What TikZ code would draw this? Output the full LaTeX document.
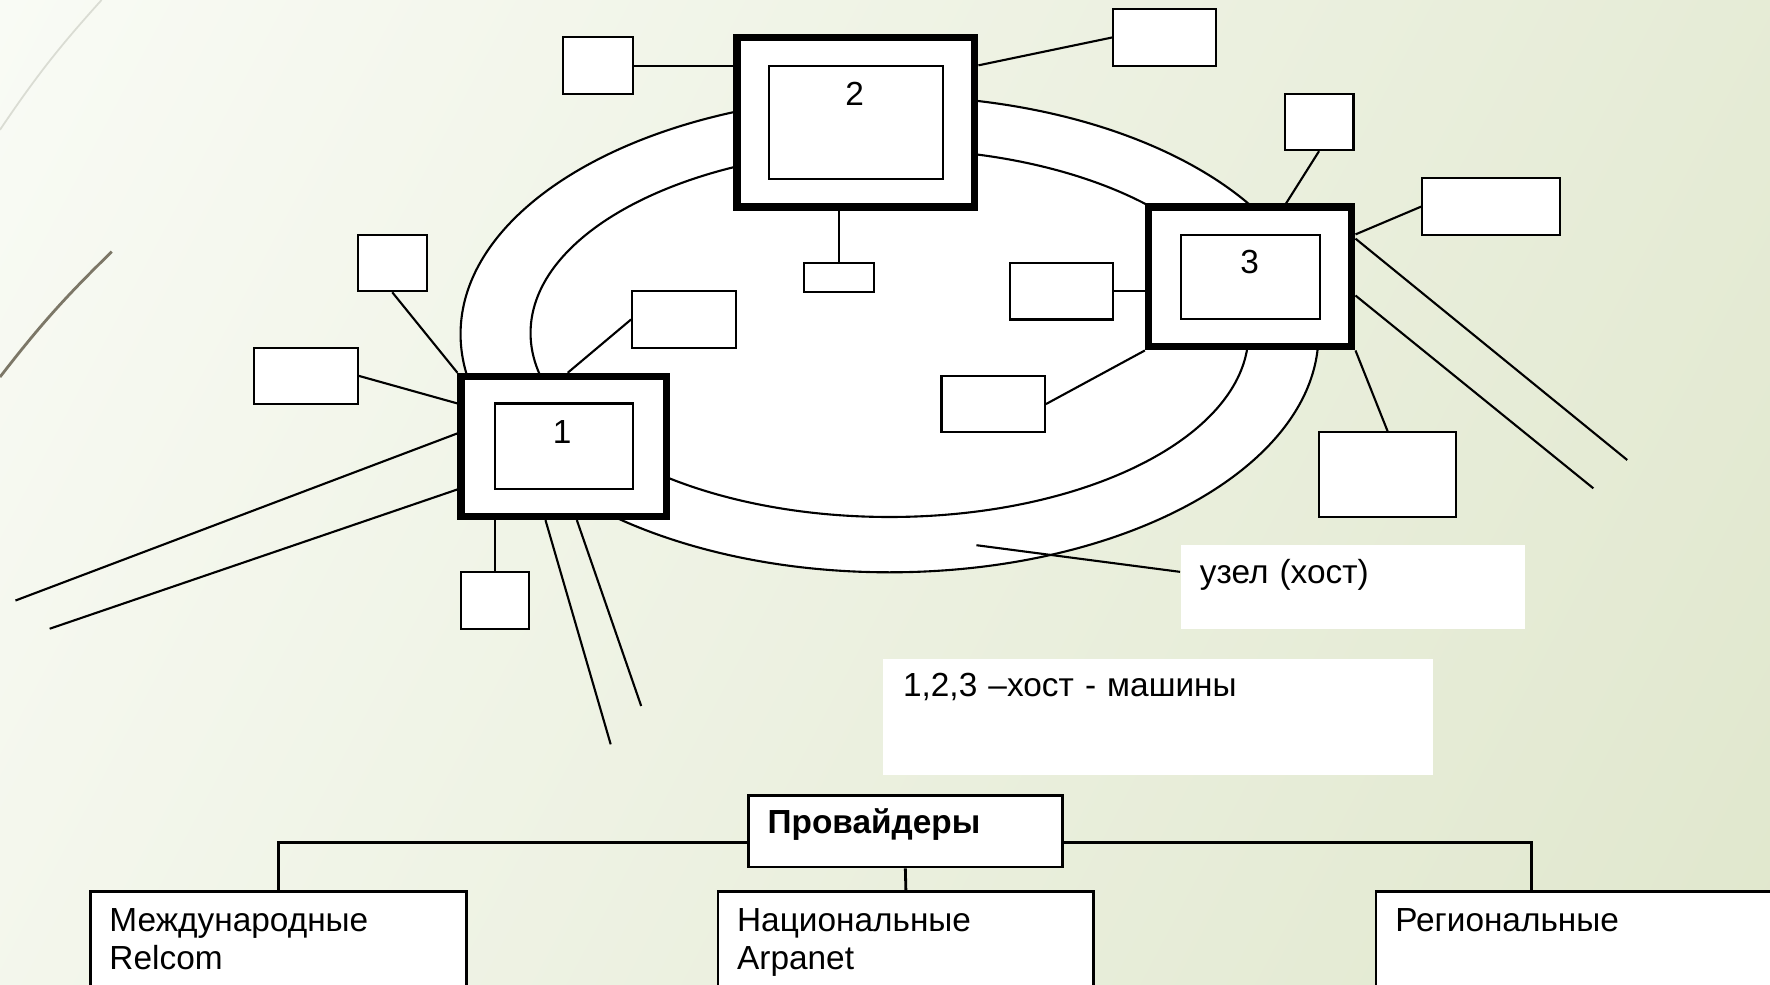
\documentclass[tikz,border=0pt]{standalone}
\usepackage{fontspec}
\setmainfont{Liberation Sans}

\definecolor{bgLeft}{HTML}{F9FBF5}
\definecolor{bgRight}{HTML}{E0E7CD}
\definecolor{swooshDark}{HTML}{7C7767}
\definecolor{swooshLight}{HTML}{DADCD3}

\begin{document}
\begin{tikzpicture}[x=0.11288mm, y=-0.11288mm,
  every node/.style={font=\fontsize{9.5}{11}\selectfont, inner sep=0pt},
  cell/.style 2 args={draw, fill=white, line width=0.6pt, minimum width=#1*\u, minimum height=#2*\u},
  host/.style 2 args={draw, fill=white, line width=2.1pt, minimum width=#1*\u, minimum height=#2*\u},
  wire/.style={line width=0.6pt},
  link/.style={line width=0.8pt},
  note/.style={fill=white, align=left, inner xsep=17*\u},
  chart/.style={draw, fill=white, line width=0.8pt, align=left, inner xsep=17*\u}]
% Parameters
\def\u{0.11288mm}

% Background
\clip (0,0) rectangle (1568,872);
\shade[shading=axis, top color=bgLeft, bottom color=bgRight, shading angle=62] (784,436) ++(-900,-900) rectangle ++(1800,1800);
\draw[swooshLight, line width=0.5pt] (90,0) to[bend right=4] (0,115);
\draw[swooshDark, line width=0.8pt] (99,223) to[bend right=4] (0,334);

% Ring
\draw[wire, fill=white] (788,296) ellipse [x radius=380, y radius=211];
\draw[wire] (788,295) ellipse [x radius=318, y radius=163];

% Host machines
\node[host={182}{124}] (host1) at (499.5,395.5) {};
\node[cell={122.5}{76}] (in1) at (host1) {};
\node (num1) at (498,383) {1};
\node[host={210.5}{150}] (host2) at (758.25,108.5) {};
\node[cell={153.5}{100.6}] (in2) at (host2) {};
\node (num2) at (757,83) {2};
\node[host={180}{123.7}] (host3) at (1107.5,245.35) {};
\node[cell={123}{75}] (in3) at (host3) {};
\node (num3) at (1107,232) {3};

% Terminals of host 1
\node[cell={61}{50}] (pc1a) at (347.5,233) {};
\node[cell={92}{50}] (pc1b) at (271,333) {};
\node[cell={92}{50}] (pc1c) at (606,283) {};
\node[cell={60.5}{50.5}] (pc1d) at (438.75,532.25) {};
% Terminals of host 2
\node[cell={62}{50.5}] (pc2a) at (530,58.25) {};
\node[cell={91}{50.5}] (pc2b) at (1031.5,33.25) {};
\node[cell={62}{25.4}] (pc2c) at (743,245.7) {};
% Terminals of host 3
\node[cell={61}{50}] (pc3a) at (1168.5,108) {};
\node[cell={122}{50}] (pc3b) at (1321,183) {};
\node[cell={91}{50}] (pc3c) at (940.5,258) {};
\node[cell={91.6}{50}] (pc3d) at (879.8,358) {};
\node[cell={121.5}{74.7}] (pc3e) at (1229.25,420.35) {};

% Outgoing channels
\coordinate (out1a) at (13.7,532);
\coordinate (out1b) at (44,557);
\coordinate (out1c) at (541,659.4);
\coordinate (out1d) at (568,625.4);
\coordinate (out3a) at (1441.5,407.5);
\coordinate (out3b) at (1411.5,432.6);

% Links
\draw[wire] (pc1a.south) -- (host1.north west);
\draw[wire] (pc1b.east) -- (host1.158);
\draw[wire] (pc1c.west) -- (host1.87);
\draw[wire] (pc1d.north) -- (pc1d.north |- host1.south);
\draw[wire] (host1.173) -- (out1a);
\draw[wire] (host1.202) -- (out1b);
\draw[wire] (host1.256) -- (out1c);
\draw[wire] (host1.280) -- (out1d);
\draw[wire] (pc2a.east) -- (pc2a.east -| host2.west);
\draw[wire] (host2.25) -- (pc2b.west);
\draw[wire] (pc2c.north) -- (pc2c.north |- host2.south);
\draw[wire] (pc3a.south) -- (host3.64);
\draw[wire] (pc3b.west) -- (host3.22);
\draw[wire] (pc3c.east) -- (pc3c.east -| host3.west);
\draw[wire] (pc3d.east) -- (host3.south west);
\draw[wire] (pc3e.north) -- (host3.south east);
\draw[wire] (host3.20) -- (out3a);
\draw[wire] (host3.350) -- (out3b);

% Notes
\node[note, text width=271*\u, text height=34*\u, text depth=40*\u] (hostNote) at (1198.5,520) {узел (хост)};
\coordinate (ringMark) at (865,483);
\draw[wire] (ringMark) -- (hostNote.175);
\node[note, inner xsep=18*\u, text width=451.5*\u, text height=33*\u, text depth=70*\u] (machinesNote) at (1025.75,635.5) {1,2,3 –хост - машины};

% Providers
\node[chart, text width=244*\u, text height=33*\u, text depth=30*\u] (prov) at (802,736.5) {\textbf{Провайдеры}};
\node[chart, text width=299*\u, text height=35*\u, text depth=75*\u] (intl) at (246.5,845) {Международные\\Relcom};
\node[chart, text width=299*\u, text height=35*\u, text depth=75*\u] (natl) at (802.5,845) {Национальные\\Arpanet};
\node[chart, text width=366*\u, text height=35*\u, text depth=75*\u] (regl) at (1419,845) {Региональные};
\draw[link] (prov.184) -| (intl.north);
\draw[link] (prov.south) -- (natl.north);
\draw[link] (prov.356) -| ([xshift=139*\u]regl.north west);

\end{tikzpicture}
\end{document}
